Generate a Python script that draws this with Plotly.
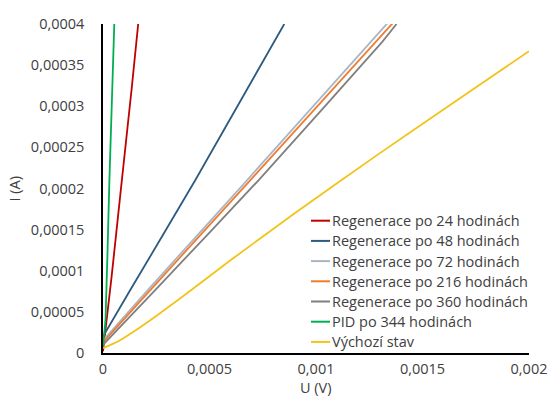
import plotly.graph_objects as go

# I-V measurements (U in volts, I in amperes)
names = [
    "Regenerace po 24 hodinách",
    "Regenerace po 48 hodinách",
    "Regenerace po 72 hodinách",
    "Regenerace po 216 hodinách",
    "Regenerace po 360 hodinách",
    "PID po 344 hodinách",
    "Výchozí stav",
]
colors = ["#C00000", "#2E5A7E", "#AAB6C4", "#ED7D31", "#7F7F7F", "#00B050", "#F2C318"]

u_24 = [0.0, 0.000040, 0.000084, 0.000134, 0.000166]
i_24 = [0.000002, 0.000092, 0.000199, 0.000320, 0.000402]

u_48 = [0.0, 0.000128, 0.000433, 0.000851]
i_48 = [0.000020, 0.0000765, 0.000210, 0.000400]

u_72 = [0.0, 0.000210, 0.000676, 0.001339]
i_72 = [0.000015, 0.0000765, 0.000210, 0.000402]

u_216 = [0.0, 0.000222, 0.000691, 0.001360]
i_216 = [0.000013, 0.0000765, 0.000210, 0.000401]

u_360 = [0.0, 0.000245, 0.000730, 0.001310, 0.001378]
i_360 = [0.000010, 0.0000765, 0.000210, 0.000378, 0.000400]

u_pid = [0.0, 0.000012, 0.0000295, 0.000053]
i_pid = [0.000008, 0.0000423, 0.000205, 0.000400]

u_0 = [0.0, 0.000070, 0.000150, 0.000250, 0.000360, 0.000600, 0.000900,
       0.001300, 0.001700, 0.002000]
i_0 = [0.000006, 0.000014, 0.000027, 0.000045, 0.000066, 0.000113, 0.000170,
       0.000243, 0.000314, 0.000367]

series_u = [u_24, u_48, u_72, u_216, u_360, u_pid, u_0]
series_i = [i_24, i_48, i_72, i_216, i_360, i_pid, i_0]

x_ticks = [0, 0.0005, 0.001, 0.0015, 0.002]
x_ticktext = ["0", "0,0005", "0,001", "0,0015", "0,002"]
y_ticks = [0, 0.00005, 0.0001, 0.00015, 0.0002, 0.00025, 0.0003, 0.00035, 0.0004]
y_ticktext = ["0", "0,00005", "0,0001", "0,00015", "0,0002", "0,00025",
              "0,0003", "0,00035", "0,0004"]
x_title = "U (V)"
y_title = "I (A)"

W, H = 553, 397
M = dict(l=103, r=24, t=24, b=44)
plot_w = W - M["l"] - M["r"]
plot_h = H - M["t"] - M["b"]

fig = go.Figure()
for name, color, u, i in zip(names, colors, series_u, series_i):
    fig.add_trace(go.Scatter(
        x=u, y=i, name=name, mode="lines", showlegend=False,
        line=dict(color=color, width=1.8, shape="spline", smoothing=0.4),
    ))

text_color = "#404040"
fs = 14.5

# Legend block: short line swatch followed by the series name, one row each
legend_left_px, swatch_len_px, first_row_px, row_step_px = 311, 19, 220.7, 20.2
shapes, annotations = [], []
for k, (name, color) in enumerate(zip(names, colors)):
    y_px = first_row_px + k * row_step_px
    y_p = (H - M["b"] - y_px) / plot_h
    x0_p = (legend_left_px - M["l"]) / plot_w
    x1_p = (legend_left_px + swatch_len_px - M["l"]) / plot_w
    shapes.append(dict(type="line", xref="paper", yref="paper",
                       x0=x0_p, x1=x1_p, y0=y_p, y1=y_p,
                       line=dict(color=color, width=2)))
    annotations.append(dict(text=name, xref="paper", yref="paper", x=x1_p, y=y_p,
                            xanchor="left", yanchor="middle", showarrow=False,
                            font=dict(size=fs, color=text_color)))

annotations += [
    dict(text=x_title, xref="paper", yref="paper", x=0.5, y=0,
         xanchor="center", yanchor="middle", yshift=-34, showarrow=False,
         font=dict(size=fs, color=text_color)),
    dict(text=y_title, xref="paper", yref="paper", x=0, y=0.5,
         xanchor="center", yanchor="middle", xshift=-89, textangle=-90,
         showarrow=False, font=dict(size=fs, color=text_color)),
]

fig.update_layout(
    width=W, height=H,
    margin=M,
    paper_bgcolor="white", plot_bgcolor="white",
    font=dict(family="Open Sans, sans-serif", size=fs, color=text_color),
    showlegend=False,
    xaxis=dict(
        range=[0, 0.002], tickvals=x_ticks, ticktext=x_ticktext,
        showgrid=False, zeroline=False, showline=True, linecolor="black",
        linewidth=1.5, ticks="", ticklabelstandoff=2, automargin=False,
    ),
    yaxis=dict(
        range=[0, 0.0004], tickvals=y_ticks, ticktext=y_ticktext,
        showgrid=False, zeroline=False, showline=True, linecolor="black",
        linewidth=1.5, ticks="", ticklabelstandoff=14, automargin=False,
    ),
    shapes=shapes,
    annotations=annotations,
)
fig.write_html("out.html")
